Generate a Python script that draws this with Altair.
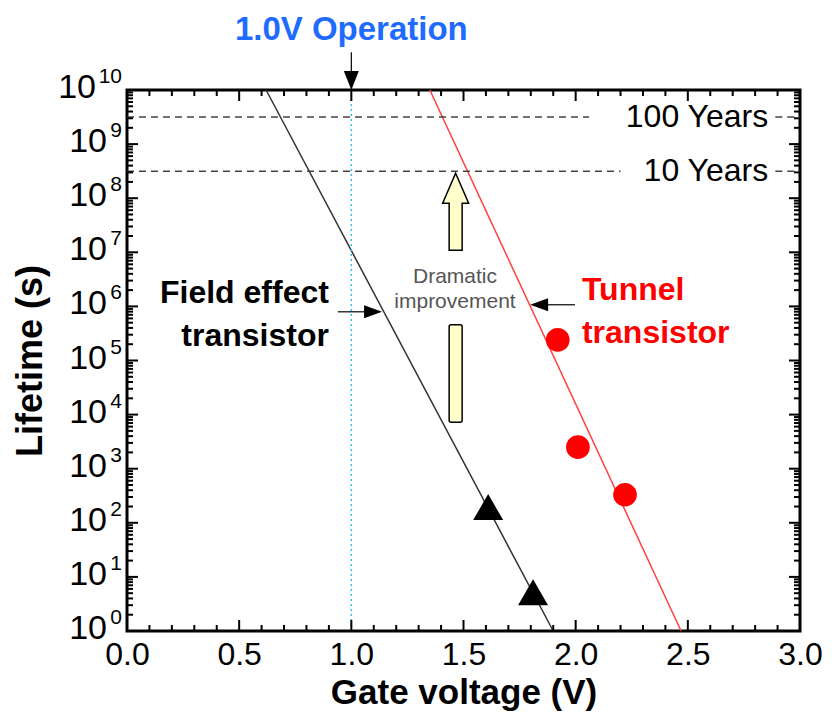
import altair as alt
import pandas as pd

# ---------------- data ----------------
fet_voltage = [1.61, 1.81]
fet_lifetime = [195, 5.2]
tunnel_voltage = [1.92, 2.01, 2.22]
tunnel_lifetime = [2.4e5, 2.5e3, 3.3e2]

fet_fit_voltage = [0.62, 1.90]
fet_fit_lifetime = [1e10, 1]
tunnel_fit_voltage = [1.35, 2.47]
tunnel_fit_lifetime = [1e10, 1]

operation_voltage = [1.0]

year_labels = ["100 Years", "10 Years"]
year_seconds = [3.156e9, 3.156e8]
year_line_end = [2.06, 2.20]
year_stub_start = [2.89, 2.89]

x_major_ticks = [0.0, 0.5, 1.0, 1.5, 2.0, 2.5, 3.0]
x_minor_ticks = [0.1, 0.2, 0.3, 0.4, 0.6, 0.7, 0.8, 0.9, 1.1, 1.2, 1.3, 1.4,
                 1.6, 1.7, 1.8, 1.9, 2.1, 2.2, 2.3, 2.4, 2.6, 2.7, 2.8, 2.9]
y_exponents = [0, 1, 2, 3, 4, 5, 6, 7, 8, 9, 10]
y_minor_mult = [2, 3, 4, 5, 6, 7, 8, 9]

FONT = "Liberation Sans"

W, H = 673, 541
xs = alt.Scale(domain=[0, 3], nice=False, zero=False)
ys = alt.Scale(type="log", domain=[1, 1e10], nice=False)

x_axis = alt.Axis(values=x_major_ticks, format=".1f", labelFontSize=32, labelColor="black",
                  labelBaseline="middle", labelPadding=23, ticks=False, tickSize=0, domain=False,
                  grid=False, title="Gate voltage (V)", titleFontSize=35, titleFontWeight="bold",
                  titleColor="black", titleY=61, titleBaseline="middle", labelFlush=False)
y_axis = alt.Axis(labels=False, ticks=False, tickSize=0, domain=False, grid=False,
                  title="Lifetime (s)", titleFontSize=36, titleFontWeight="bold", titleColor="black",
                  titleX=-97, titleY=H / 2, titleAngle=270, titleBaseline="middle")


def X(field="v"):
    return alt.X(f"{field}:Q", scale=xs, axis=x_axis)


def Y(field="t"):
    return alt.Y(f"{field}:Q", scale=ys, axis=y_axis)


# ---- fit lines ----
fit_df = pd.DataFrame({
    "v": fet_fit_voltage + tunnel_fit_voltage,
    "t": fet_fit_lifetime + tunnel_fit_lifetime,
    "s": ["fet", "fet", "tun", "tun"],
})
fet_line = alt.Chart(fit_df).transform_filter("datum.s == 'fet'").mark_line(
    color="#333333", strokeWidth=1.5).encode(x=X(), y=Y())
tun_line = alt.Chart(fit_df).transform_filter("datum.s == 'tun'").mark_line(
    color="#ff4040", strokeWidth=1.5).encode(x=X(), y=Y())

# ---- 1.0 V operation dotted line ----
op_df = pd.DataFrame({"v": operation_voltage, "t0": [1], "t1": [1e10]})
op_line = alt.Chart(op_df).mark_rule(color="#33bbff", strokeDash=[2, 3], strokeWidth=1.5).encode(
    x=X(), y=Y("t0"), y2="t1:Q")

# ---- year lines ----
year_df = pd.DataFrame({"label": year_labels, "t": year_seconds, "x0": [0, 0],
                        "x1": year_line_end, "s0": year_stub_start, "s1": [3.0, 3.0],
                        "tx": [2.858, 2.858]})
year_rule = alt.Chart(year_df).mark_rule(color="#444444", strokeDash=[7, 5], strokeWidth=1.5).encode(
    x=X("x0"), x2="x1:Q", y=Y())
year_stub = alt.Chart(year_df).mark_rule(color="#444444", strokeDash=[7, 5], strokeWidth=1.5).encode(
    x=X("s0"), x2="s1:Q", y=Y())
year_text = alt.Chart(year_df).mark_text(align="right", baseline="middle", fontSize=32,
                                         font=FONT, color="black").encode(
    x=X("tx"), y=Y(), text="label:N")

# ---- data markers ----
fet_df = pd.DataFrame({"v": fet_voltage, "t": fet_lifetime})
tun_df = pd.DataFrame({"v": tunnel_voltage, "t": tunnel_lifetime})
fet_pts = alt.Chart(fet_df).mark_point(shape="triangle-up", filled=True, size=900, color="black",
                                       opacity=1).encode(x=X(), y=Y())
tun_pts = alt.Chart(tun_df).mark_point(shape="circle", filled=True, size=560, color="#ff0000",
                                       opacity=1).encode(x=X(), y=Y())

# ---- annotations ----
ann_df = pd.DataFrame({
    "text": ["Field effect", "transistor"],
    "v": [0.90, 0.90],
    "t": [10 ** 6.25, 10 ** 5.45],
})
fet_text = alt.Chart(ann_df).mark_text(align="right", baseline="middle", fontSize=32,
                                       fontWeight="bold", font=FONT, color="black").encode(
    x=X(), y=Y(), text="text:N")

tun_ann_df = pd.DataFrame({
    "text": ["Tunnel", "transistor"],
    "v": [2.028, 2.028],
    "t": [10 ** 6.30, 10 ** 5.51],
})
tun_text = alt.Chart(tun_ann_df).mark_text(align="left", baseline="middle", fontSize=32,
                                           fontWeight="bold", font=FONT, color="#ff0000").encode(
    x=X(), y=Y(), text="text:N")

dram_df = pd.DataFrame({
    "text": ["Dramatic", "improvement"],
    "v": [1.462, 1.462],
    "t": [10 ** 6.54, 10 ** 6.08],
})
dram_text = alt.Chart(dram_df).mark_text(align="center", baseline="middle", fontSize=21,
                                         font=FONT, color="#555555").encode(
    x=X(), y=Y(), text="text:N")

op_text_df = pd.DataFrame({"text": ["1.0V Operation"], "v": [1.0], "t": [10 ** 11.1]})
op_text = alt.Chart(op_text_df).mark_text(align="center", baseline="middle", fontSize=33,
                                          fontWeight="bold", font=FONT, color="#1f6bff").encode(
    x=X(), y=Y(), text="text:N")

# arrows (shaft rules + heads)
shaft_df = pd.DataFrame({
    "v0": [1.0, 0.94, 1.86],
    "v1": [1.0, 1.06, 1.997],
    "t0": [10 ** 10.70, 10 ** 5.90, 10 ** 6.03],
    "t1": [10 ** 10.33, 10 ** 5.90, 10 ** 6.03],
})
shafts = alt.Chart(shaft_df).mark_rule(color="black", strokeWidth=1.2).encode(
    x=X("v0"), x2="v1:Q", y=Y("t0"), y2="t1:Q")

head_down = alt.Chart(pd.DataFrame({"v": [1.0], "t": [1e10]})).mark_point(
    shape="M0,0L-7.5,-19L7.5,-19Z", size=4, filled=True, color="black", opacity=1).encode(x=X(), y=Y())
head_right = alt.Chart(pd.DataFrame({"v": [1.137], "t": [10 ** 5.90]})).mark_point(
    shape="M0,0L-18,-6.5L-18,6.5Z", size=4, filled=True, color="black", opacity=1).encode(x=X(), y=Y())
head_left = alt.Chart(pd.DataFrame({"v": [1.797], "t": [10 ** 6.03]})).mark_point(
    shape="M0,0L18,-6.5L18,6.5Z", size=4, filled=True, color="black", opacity=1).encode(x=X(), y=Y())

# big yellow arrow
big_head = alt.Chart(pd.DataFrame({"v": [1.465], "t": [10 ** 7.76]})).mark_point(
    shape="M0,-38L13,-8L6.5,-8L6.5,39L-6.5,39L-6.5,-8L-13,-8Z", size=4, filled=True,
    fill="#ffffcc", stroke="black", strokeWidth=1.5, opacity=1).encode(x=X(), y=Y())
big_shaft = alt.Chart(pd.DataFrame({"v0": [1.436], "v1": [1.494], "t0": [10 ** 5.66],
                                    "t1": [10 ** 3.86]})).mark_rect(
    fill="#ffffcc", stroke="black", strokeWidth=1.5, cornerRadius=2).encode(
    x=X("v0"), x2="v1:Q", y=Y("t0"), y2="t1:Q")

# ---- inward ticks ----
xmaj = pd.DataFrame({"v": x_major_ticks})
xmin = pd.DataFrame({"v": x_minor_ticks})
ymaj = pd.DataFrame({"e": y_exponents}).assign(t=lambda d: 10.0 ** d["e"])
ymin = pd.DataFrame([{"t": m * 10.0 ** e} for e in y_exponents[:-1] for m in y_minor_mult])

tick_layers = []
for df, ln in ((xmaj, 11), (xmin, 6)):
    tick_layers.append(alt.Chart(df).mark_rule(color="black", strokeWidth=2).encode(
        x=X(), y=alt.value(H), y2=alt.value(H - ln)))
    tick_layers.append(alt.Chart(df).mark_rule(color="black", strokeWidth=2).encode(
        x=X(), y=alt.value(0), y2=alt.value(ln)))
for df, ln in ((ymaj, 11), (ymin, 6)):
    tick_layers.append(alt.Chart(df).mark_rule(color="black", strokeWidth=2).encode(
        y=Y(), x=alt.value(0), x2=alt.value(ln)))
    tick_layers.append(alt.Chart(df).mark_rule(color="black", strokeWidth=2).encode(
        y=Y(), x=alt.value(W), x2=alt.value(W - ln)))

# ---- y tick labels 10^n ----
ylab = ymaj.assign(base="10", exp=lambda d: d["e"].astype(str))
base1 = alt.Chart(ylab).transform_filter("datum.e < 10").mark_text(
    align="right", baseline="middle", fontSize=34, font=FONT, color="black", dy=-2).encode(
    y=Y(), x=alt.value(-20), text="base:N")
base2 = alt.Chart(ylab).transform_filter("datum.e >= 10").mark_text(
    align="right", baseline="middle", fontSize=34, font=FONT, color="black", dy=-2).encode(
    y=Y(), x=alt.value(-31), text="base:N")
expo = alt.Chart(ylab).mark_text(
    align="right", baseline="middle", fontSize=21, font=FONT, color="black", dy=-13).encode(
    y=Y(), x=alt.value(-5), text="exp:N")

chart = alt.layer(
    fet_line, tun_line, op_line, year_rule, year_stub, year_text,
    *tick_layers,
    big_shaft, big_head, dram_text,
    shafts, head_down, head_right, head_left,
    fet_pts, tun_pts, fet_text, tun_text, op_text,
    base1, base2, expo,
).properties(
    width=W, height=H,
    padding={"left": 127, "top": 90, "right": 32, "bottom": 85},
    autosize=alt.AutoSizeParams(type="none"),
).configure(font=FONT).configure_view(stroke="black", strokeWidth=3).configure_axis(
    labelFont=FONT, titleFont=FONT)

chart.save("out.html", embed_options={"renderer": "svg", "actions": False})
